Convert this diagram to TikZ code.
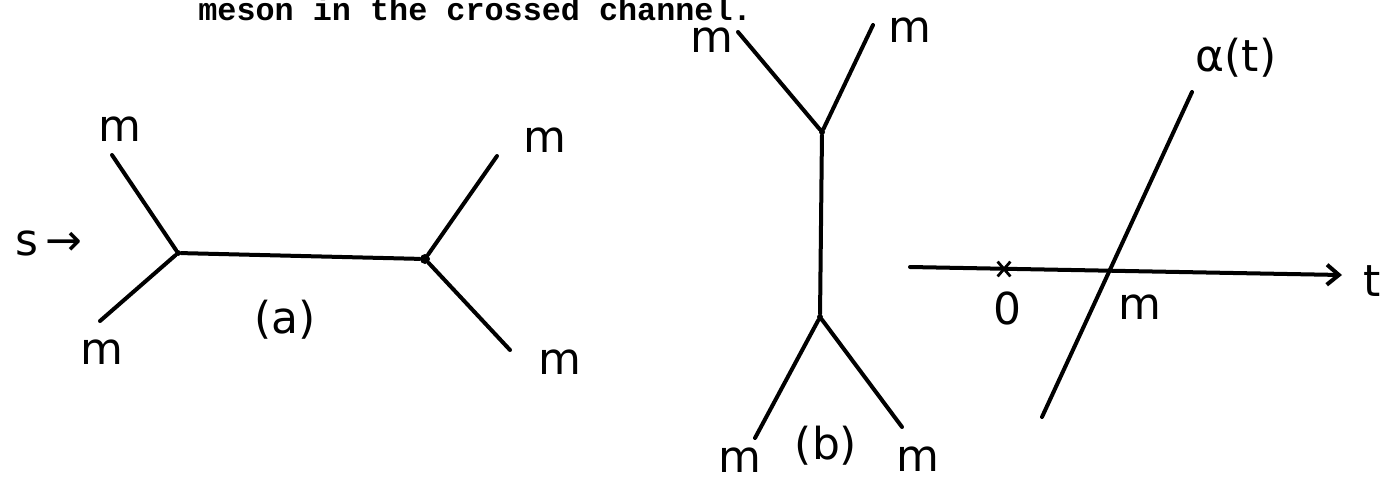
\documentclass[tikz,border=0pt]{standalone}
\usepackage{fontspec}
\usetikzlibrary{positioning, arrows.meta, shapes.misc}
\newfontfamily\handfont{DejaVu Sans}
\newfontfamily\typefont{Liberation Mono}

\begin{document}
\begin{tikzpicture}[
            x=0.5pt, y=-0.5pt,
            leg/.style={line width=2pt, line cap=round},
            hand/.style={font=\handfont\fontsize{22}{26}\selectfont, inner sep=0pt},
            vertex/.style={circle, fill=black, inner sep=0pt, minimum size=3pt},
            bigvertex/.style={circle, fill=black, inner sep=0pt, minimum size=5pt}
        ]
        \useasboundingbox (0,0) rectangle (1396,479);

        % Caption line of the page
        \node[anchor=base west, inner sep=0pt, font=\typefont\bfseries\fontsize{15.9}{18}\selectfont] (cap) at (198,20) {meson in the crossed channel.};

        % Left diagram (a) - s channel
        \node[vertex] (A1) at (178,253) {};
        \node[bigvertex] (A2) at (425,259) {};
        \coordinate (a1) at (112,155);
        \coordinate (a2) at (100,321);
        \coordinate (a3) at (497,156);
        \coordinate (a4) at (510,350);
        \draw[leg] (A1) -- (A2);
        \draw[leg] (a1) -- (A1) -- (a2);
        \draw[leg] (a3) -- (A2) -- (a4);
        \node[hand] (ma1) at (120,129) {m};
        \node[hand] (ma2) at (102,352) {m};
        \node[hand] (ma3) at (545,140) {m};
        \node[hand] (ma4) at (560,362) {m};
        \node[hand] (s) at (49,243) {s\,→};
        \node[hand] (la) at (285,320) {(a)};

        % Middle diagram (b) - crossed channel
        \node[vertex] (B1) at (822,132) {};
        \node[vertex] (B2) at (820,317) {};
        \coordinate (b1) at (738,32);
        \coordinate (b2) at (873,25);
        \coordinate (b3) at (755,438);
        \coordinate (b4) at (902,427);
        \draw[leg] (B1) -- (B2);
        \draw[leg] (b1) -- (B1) -- (b2);
        \draw[leg] (b3) -- (B2) -- (b4);
        \node[hand] (mb1) at (712,40) {m};
        \node[hand] (mb2) at (910,30) {m};
        \node[hand] (mb3) at (740,460) {m};
        \node[hand] (mb4) at (918,459) {m};
        \node[hand] (lb) at (826,446) {(b)};

        % Right diagram - trajectory alpha(t)
        \coordinate (c1) at (910,267);
        \coordinate (c2) at (1342,275);
        \coordinate (r1) at (1192,92);
        \coordinate (r2) at (1042,417);
        \draw[leg, -{Straight Barb[length=6pt, width=10pt, line width=2pt]}] (c1) -- (c2);
        \draw[leg] (r2) -- (r1);
        \node[cross out, draw, line width=1.4pt, minimum width=5pt, minimum height=6pt, inner sep=0pt] (zero) at (1004,269) {};
        \node[hand] (l0) at (1007,308) {0};
        \node[hand] (lm) at (1140,307) {m};
        \node[hand] (lt) at (1372,281) {t};
        \node[hand] (alpha) at (1236,58) {α(t)};
        \end{tikzpicture}
\end{document}
